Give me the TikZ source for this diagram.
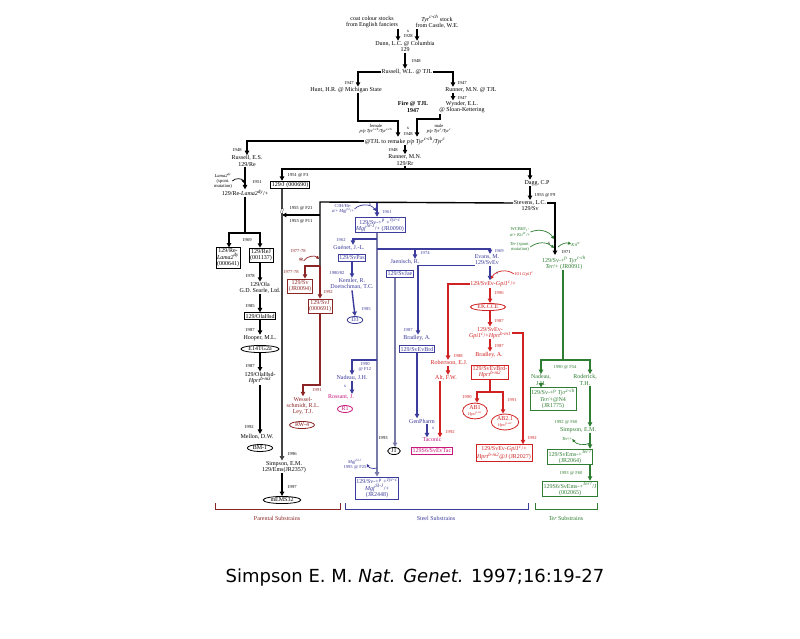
\documentclass[tikz,border=0pt]{standalone}
\usepackage{fontspec}
\setmainfont{Liberation Serif}
\newfontfamily\capfont{DejaVu Sans}
\usetikzlibrary{arrows.meta,shapes.geometric,calc}
\definecolor{mred}{HTML}{8B2525}
\definecolor{bl}{HTML}{3C3C9C}
\definecolor{bll}{HTML}{7A7AA8}
\definecolor{rd}{HTML}{D02222}
\definecolor{gr}{HTML}{2E7D32}
\definecolor{mg}{HTML}{C8187C}
\definecolor{pl}{HTML}{444444}
\newcommand{\gn}[1]{\textit{#1}}
\newcommand{\spx}[1]{\textsuperscript{#1}}
\begin{document}
\begin{tikzpicture}[x=1pt,y=-1pt,
 txt/.style={font=\fontsize{6}{6.4}\selectfont,align=center,inner sep=0.4pt},
 lab/.style={font=\fontsize{4.6}{5}\selectfont,align=center,inner sep=0.2pt},
 bx/.style={txt,draw,line width=0.8pt,inner sep=1.1pt},
 el/.style={txt,draw,ellipse,line width=0.8pt,inner xsep=1.8pt,inner ysep=0.5pt},
 ln/.style={line width=1.4pt},
 arr/.style={line width=1.4pt,-{Triangle[length=4.4pt,width=4.4pt]}},
 tarr/.style={line width=0.7pt,-{Triangle[length=3pt,width=3pt]}},
 brkt/.style={line width=1pt}]
\fill[white] (0,0) rectangle (800,639);
\path[use as bounding box] (0,0) rectangle (800,639);
% column coordinates
\coordinate (xa) at (398,0); \coordinate (xb) at (417,0); \coordinate (xh) at (358,0);
\coordinate (xr) at (453,0); \coordinate (xw) at (440,0); \coordinate (xp) at (282,0);
\coordinate (xd) at (530,0); \coordinate (xbl) at (377,0); \coordinate (xgu) at (353,0);
\coordinate (xev) at (490,0); \coordinate (xja) at (415,0); \coordinate (xj1) at (395,0);
\coordinate (xbr) at (418,0); \coordinate (xgp) at (427,0); \coordinate (xrb) at (448,0);
\coordinate (xal) at (440,0); \coordinate (xrr) at (523,0); \coordinate (xa1) at (477,0);
\coordinate (xa2) at (503,0); \coordinate (xg) at (555,0); \coordinate (xgl) at (563,0);
\coordinate (xro) at (590,0); \coordinate (xre) at (245,0); \coordinate (xl) at (260,0);
\coordinate (xlb) at (229,0); \coordinate (x305) at (305,0); \coordinate (x303) at (303,0);
\coordinate (xng) at (541,0); \coordinate (xs) at (320,0);
% junctions
\coordinate (hj) at (398,121); \coordinate (wc) at (440,119); \coordinate (hl) at (405,169);
\coordinate (sl) at (320,202); \coordinate (f11) at (320,215); \coordinate (sk) at (320,266);
\coordinate (wj) at (320,385); \coordinate (bg) at (377,239); \coordinate (be) at (377,249);
\coordinate (bn) at (377,360); \coordinate (rs) at (245,233); \coordinate (rj) at (490,392);
\coordinate (gj) at (563,360); \coordinate (lj) at (244,183); \coordinate (cj) at (376,211);
\coordinate (gpj) at (491,279); \coordinate (starj) at (319,259); \coordinate (wcbj) at (554,239);
\coordinate (terj) at (554,248); \coordinate (mgfj) at (377,468); \coordinate (terj2) at (590,443);
\coordinate (kj) at (558,247);

% ---------------- top (black)
\node[txt] (cfan) at (372,22) {coat colour stocks\\from English fanciers};
\node[txt] (ccas) at (437,22) {\gn{Tyr}\spx{\gn{c-ch}} stock\\from Castle, W.E.};
\node[txt] (dunn) at (405,44) {Dunn, L.C. @ Columbia};
\node[txt] (d129) at (405,50) {129};
\draw[arr] (cfan.south -| xa) -- (dunn.north -| xa);
\draw[arr] (ccas.south -| xb) -- (dunn.north -| xb);
\node[lab] (t1) at (408,31) {x};
\node[lab] (t2) at (408,36) {1928};
\node[txt] (rwl) at (407,72) {Russell, W.L. @ TJL};
\draw[arr] (d129.south) -- (d129.south |- rwl.north);
\node[lab] (t3) at (416,61) {1948};
\node[txt] (hunt) at (346,90) {Hunt, H.R. @ Michigan State};
\node[txt] (runtjl) at (471,90) {Runner, M.N. @ TJL};
\draw[arr] (rwl.west) -| (hunt.north -| xh);
\draw[arr] (rwl.east) -| (runtjl.north -| xr);
\node[lab] (t4) at (349,83) {1947};
\node[lab] (t5) at (462,83) {1947};
\node[txt] (wyn) at (462,107) {Wynder, E.L.\\@ Sloan-Kettering};
\draw[arr] (runtjl.south -| xr) -- (wyn.north -| xr);
\node[lab] (t6) at (462,98) {1947};
\node[txt,font=\fontsize{6}{6.4}\selectfont\bfseries] (fire) at (413,107) {Fire @ TJL\\1947};
\node[txt] (remake) at (405,141) {@TJL to remake \gn{p/p Tyr}\spx{\gn{c-ch}}\gn{/Tyr}\spx{\gn{c}}};
\node[lab] (fem) at (376,129) {female\\\gn{p/p Tyr}\spx{\gn{c-ch}}\gn{/Tyr}\spx{\gn{c-ch}}};
\node[lab] (mal) at (439,129) {male\\\gn{p/p Tyr}\spx{\gn{c}}\gn{/Tyr}\spx{\gn{c}}};
\draw[arr] (hunt.south -| xh) |- (hj) -- (remake.north -| xa);
\draw[arr] (wyn.south -| xw) -- (wc) -| (remake.north -| xb);
\node[lab] (t7) at (408,128) {x};
\node[lab] (t8) at (408,134) {1948};

\node[txt] (russes) at (247,161) {Russell, E.S.\\129/Re};
\draw[arr] (remake.west) -| (russes.north);
\node[lab] (t9) at (237,150) {1948};
\node[txt] (runmn) at (405,160) {Runner, M.N.\\129/Rr};
\draw[arr] (remake.south) -- (runmn.north);
\node[lab] (t10) at (393,150) {1948};
\draw[ln] (runmn.south) -- (hl);
\node[bx] (j690) at (290,185) {129/J (000690)};
\node[txt] (dagg) at (537,183) {Dagg, C.P};
\draw[arr] (hl) -| (j690.north -| xp);
\draw[arr] (hl) -| (dagg.north -| xd);
\node[lab] (t11) at (298,175) {1951 @ F3};
\node[txt] (stev) at (530,203) {Stevens, L.C.};
\node[txt] (sv129) at (530,209) {129/Sv};
\draw[arr] (dagg.south -| xd) -- (stev.north -| xd);
\node[lab] (t12) at (545,195) {1955 @ F9};
\draw[ln] (stev.west) -- (sl) -- (sk);
\draw[arr] (f11) -- (f11 -| xp);
\node[lab] (t13) at (301,208) {1955 @ F21};
\node[lab] (t14) at (301,221) {1955 @ F11};
\draw[arr] (stev.east) -| (555,255);

% ---------------- parental column
\node[lab,align=center] (lama) at (223,181) {\gn{Lama2}\spx{\gn{dy}}\\(spont.\\mutation)};
\draw[tarr] (lama.east) to[bend left=60] (lj);
\node[txt] (relama) at (245,193) {129/Re-\gn{Lama2}\spx{\gn{dy}}/+};
\draw[arr] (russes.south -| xre) -- (relama.north -| xre);
\node[lab] (t15) at (257,182) {1951};
\draw[ln] (relama.south) -- (rs);
\node[bx] (bL) at (228,258) {129/Re-\\\gn{Lama2}\spx{\gn{dy}}\\(000641)};
\node[bx] (bR) at (261,255) {129/ReJ\\(001137)};
\draw[arr] (rs) -| (bL.north -| xlb);
\draw[arr] (rs) -| (bR.north -| xl);
\node[lab] (t16) at (247,240) {1969};
\node[txt] (ola) at (260,288) {129/Ola\\G.D. Searle, Ltd.};
\draw[arr] (bR.south -| xl) -- (ola.north -| xl);
\node[lab] (t17) at (250,276) {1978};
\node[bx] (olahsd) at (260,316) {129/OlaHsd};
\draw[arr] (ola.south) -- (olahsd.north);
\node[lab] (t18) at (250,306) {1985};
\node[txt] (hooper) at (260,338) {Hooper, M.L.};
\draw[arr] (olahsd.south) -- (hooper.north);
\node[lab] (t19) at (250,330) {1987};
\node[el] (e14) at (260,349) {E14TG2a};
\node[txt] (olahprt) at (260,378) {129/OlaHsd-\\\gn{Hprt}\spx{\gn{b-m3}}};
\draw[arr] (e14.south) -- (olahprt.north);
\node[lab] (t20) at (250,366) {1987};
\node[txt] (mellon) at (257,437) {Mellon, D.W.};
\draw[arr] (olahprt.south -| xl) -- (mellon.north -| xl);
\node[lab] (t21) at (249,427) {1992};
\node[el] (bm1) at (260,448) {BM-1};

\node[txt] (sim) at (284,467) {Simpson, E.M.\\129/Ems(JR2357)};
\draw[arr,pl] (j690.south -| xp) -- (sim.north -| xp);
\node[fill=white,inner sep=0pt,font=\fontsize{7}{7}\selectfont] (brk) at (282,211) {//};
\node[lab] (t22) at (292,454) {1996};
\node[el] (mems) at (282,500) {mEMS32};
\draw[arr] (sim.south -| xp) -- (mems.north -| xp);
\node[lab] (t23) at (292,487) {1997};

% ---------------- maroon (129/Sv)
\node[lab,mred] (t24) at (298,251) {1977-78};
\node[mred,font=\fontsize{10}{10}\selectfont,inner sep=0pt] (star) at (301,261) {*};
\draw[tarr,mred] (star.east) to[bend left=50] (starj);
\node[bx,mred] (jr94) at (300,286) {129/Sv\\(JR0094)};
\draw[arr,mred] (sk) -| (jr94.north -| x305);
\node[lab,mred] (t25) at (291,272) {1977-78};
\node[bx,mred] (svj) at (320,306) {129/SvJ\\(000691)};
\draw[arr,mred] (sk) -- (svj.north -| xs);
\node[lab,mred] (t26) at (328,292) {1992};
\node[txt,mred] (wes) at (303,406) {Wessel-\\schmidt, R.L.\\Ley, T.J.};
\draw[arr,mred] (svj.south) -- (wj) -| (wes.north -| x303);
\node[lab,mred] (t27) at (317,390) {1991};
\node[el,mred] (rw4) at (302,425) {RW-4};

% ---------------- blue (Steel)
\node[lab,bl] (c3h) at (343,209) {C3H/He-\\\gn{a}/+ \gn{Mgf}\spx{\gn{Sl}}/+};
\draw[tarr,bl] (c3h.east) to[bend left=50] (cj);
\node[lab,bl] (t28) at (370,204) {x};
\node[bx,bl] (jr0090) at (380,225) {129/Sv-+\spx{p} +\spx{\gn{Tyr-c}}\\\gn{Mgf}\spx{\gn{Sl-J}}/+ (JR0090)};
\draw[arr,bl] (stev.west -| xbl) -- (jr0090.north -| xbl);
\node[lab,bl] (t29) at (387,212) {1961};
\node[bx,bl] (jr2448) at (377,488) {129/Sv-+\spx{p} +\spx{\gn{Tyr-c}}\\\gn{Mgf}\spx{\gn{Sl-J}}/+\\(JR2448)};
\draw[arr,bll] (jr0090.south -| xbl) -- (jr2448.north -| xbl);
\node[txt,bl] (guenet) at (349,248) {Guénet, J.-L.};
\draw[arr,bl] (bg) -| (guenet.north -| xgu);
\node[lab,bl] (t30) at (341,240) {1962};
\node[bx,bl] (pas) at (352,258) {129/SvPas};
\node[txt,bl] (kemler) at (352,284) {Kemler, R.\\Doetschman, T.C.};
\draw[arr,bl] (pas.south) -- (kemler.north);
\node[lab,bl] (t31) at (337,273) {1980/82};
\node[el,bl] (d3) at (355,320) {D3};
\draw[arr,bl] (kemler.south) -- (d3.north);
\node[lab,bl] (t32) at (366,309) {1985};
\node[txt,bl] (nadb) at (352,378) {Nadeau, J.H.};
\draw[arr,bl] (bn) -| (nadb.north);
\node[lab,bl] (t33) at (365,367) {1990\\@ F12};
\node[txt,mg] (ross) at (341,397) {Rossant, J.};
\draw[arr,bl] (nadb.south) -- (nadb.south |- ross.north);
\node[lab,bl] (t34) at (345,386) {x};
\node[el,mg] (r1) at (345,409) {R1};

\node[txt,bl] (jaen) at (405,262) {Jaenisch, R.};
\node[bx,bl] (jae) at (400,274) {129/SvJae};
\draw[arr,bl] (be) -| (jaen.north -| xja);
\node[lab,bl] (t35) at (425,253) {1974};
\node[txt,bl] (evans) at (487,257) {Evans, M.};
\node[txt,bl] (sv) at (487,263) {129/SvEv};
\draw[arr,bl] (be) -| (evans.north -| xev);
\node[lab,bl] (t36) at (499,251) {1969};
\node[el] (j1) at (394,451) {J1};
\draw[arr,bll] (jae.south -| xj1) -- (j1.north -| xj1);
\node[lab] (t37) at (383,438) {1993};
\node[txt,bl] (bradb) at (417,338) {Bradley, A.};
\draw[arr,bl] (sv.south west) -| (bradb.north -| xbr);
\node[lab,bl] (t38) at (408,330) {1987};
\node[bx,bl] (brd) at (417,349) {129/SvEvBrd};
\node[txt,bl] (gp) at (422,421) {GenPharm};
\draw[arr,bl] (brd.south) -- (brd.south |- gp.north);
\node[txt,mg] (tac) at (432,440) {Taconic};
\node[bx,mg] (tacb) at (432,451) {129S6/SvEvTac};
\draw[arr,bl] (gp.south -| xgp) -- (tac.north -| xgp);
\node[lab,bl] (t39) at (433,428) {x};
\node[lab,bl] (mgf) at (355,464) {\gn{Mgf}\spx{\gn{Sl-J}}\\1995 @ F25};
\draw[tarr,bl] (mgfj) to[bend left=40] (mgf.east);

% ---------------- red (Evans line)
\node[txt,rd] (gpi) at (493,284) {129/SvEv-\gn{Gpi1}\spx{\gn{c}}/+};
\draw[arr,bl] (sv.south -| xev) -- (gpi.north -| xev);
\node[lab,bl] (t40) at (497,273) {x};
\node[lab,rd] (g101) at (524,274) {101 \gn{Gpi1}\spx{\gn{c}}};
\draw[tarr,rd] (g101.west) to[bend right=50] (gpj);
\node[txt,rd] (rob) at (449,363) {Robertson, E.J.};
\draw[arr,rd] (gpi.west) -| (rob.north -| xrb);
\node[lab,rd] (t41) at (458,356) {1988};
\node[txt,rd] (alt) at (446,378) {Alt, F.W.};
\draw[arr,rd] (rob.south -| xrb) -- (alt.north -| xrb);
\draw[arr,rd] (alt.south -| xal) -- (tac.north -| xal);
\node[lab,rd] (t42) at (450,432) {1992};
\node[el,rd] (ek) at (488,307) {EK.CCE};
\draw[arr,rd] (gpi.south -| xev) -- (ek.north -| xev);
\node[lab,rd] (t43) at (499,293) {1996};
\node[txt,rd] (gh) at (490,333) {129/SvEv-\\\gn{Gpi1}\spx{\gn{c}}/+\gn{Hprt}\spx{\gn{b-m1}}};
\draw[arr,rd] (ek.south -| xev) -- (gh.north -| xev);
\node[lab,rd] (t44) at (499,321) {1987};
\node[txt,rd] (bradr) at (489,355) {Bradley, A.};
\draw[arr,rd] (gh.south -| xev) -- (bradr.north -| xev);
\node[lab,rd] (t45) at (499,346) {1987};
\node[bx,rd] (brdh) at (490,372) {129/SvEvBrd-\\\gn{Hprt}\spx{\gn{b-m2}}};
\node[el,rd] (ab1) at (475,411) {AB1\\[-1pt]{\fontsize{4}{4}\selectfont\gn{Hprt}\spx{\gn{b-m1}}}};
\node[el,rd] (ab2) at (505,422) {AB2.1\\[-1pt]{\fontsize{4}{4}\selectfont\gn{Hprt}\spx{\gn{b-m2}}}};
\draw[ln,rd] (brdh.south) -- (rj);
\draw[arr,rd] (rj) -| (ab1.north -| xa1);
\draw[arr,rd] (rj) -| (ab2.north -| xa2);
\node[lab,rd] (t46) at (467,397) {1990};
\node[lab,rd] (t47) at (512,400) {1991};
\node[bx,rd] (jr2027) at (504,453) {129/SvEv-\gn{Gpi1}\spx{\gn{c}}/+\\\gn{Hprt}\spx{\gn{b-m2}}@J (JR2027)};
\draw[arr,rd] (gh.east) -| (jr2027.north -| xrr);
\node[lab,rd] (t48) at (532,438) {1992};

% ---------------- green (Ter)
\node[lab,gr] (wcb) at (520,232) {WCB6F\textsubscript{1}-\\\gn{a}/+ \gn{Kit}\spx{\gn{W}}/+};
\node[lab,gr] (terl) at (520,247) {\gn{Ter} (spont.\\mutation)};
\draw[tarr,gr] (wcb.east) to[bend left=40] (wcbj);
\draw[tarr,gr] (terl.east) to[bend left=40] (terj);
\node[lab] (t49) at (549,243) {x};
\node[lab,gr] (kitw) at (576,244) {\gn{Kit}\spx{\gn{W}}};
\draw[tarr,gr] (kj) to[bend left=30] (kitw.west);
\node[lab] (t50) at (566,252) {1971};
\node[txt,gr] (g91) at (564,263) {129/Sv-+\spx{p} \gn{Tyr}\spx{\gn{c-ch}}\\\gn{Ter}/+ (JR0091)};
\draw[ln,gr] (g91.south -| xgl) -- (gj);
\node[txt,gr] (nadg) at (541,380) {Nadeau,\\J.H.};
\node[txt,gr] (rod) at (585,380) {Roderick,\\T.H.};
\draw[arr,gr] (gj) -| (nadg.north -| xng);
\draw[arr,gr] (gj) -| (rod.north -| xro);
\node[lab,gr] (t51) at (565,367) {1990 @ F54};
\node[bx,gr] (jr1775) at (553,399) {129/Sv-+\spx{p} \gn{Tyr}\spx{\gn{c-ch}}\\\gn{Ter}/+@N4\\(JR1775)};
\draw[arr,gr] (nadg.south) -- (nadg.south |- jr1775.north);
\node[txt,gr] (simg) at (578,430) {Simpson, E.M.};
\draw[arr,gr] (rod.south -| xro) -- (simg.north -| xro);
\node[lab,gr] (t52) at (566,422) {1992 @ F60};
\node[lab,gr] (terp) at (567,439) {\gn{Ter}/+};
\node[bx,gr] (jr2064) at (570,457) {129/SvEms-+\spx{\gn{Ter?}}\\(JR2064)};
\draw[arr,gr] (simg.south -| xro) -- (jr2064.north -| xro);
\draw[tarr,gr] (terj2) to[bend left=40] (terp.east);
\node[bx,gr] (b2065) at (570,489) {129S6/SvEms-+\spx{\gn{Ter?}}/J\\(002065)};
\draw[arr,gr] (jr2064.south -| xro) -- (b2065.north -| xro);
\node[lab,gr] (t53) at (571,473) {1993 @ F60};

% ---------------- brackets
\draw[brkt,mred] (215,503) -- (215,509) -- (340,509) -- (340,503);
\draw[brkt,bl] (345,503) -- (345,509) -- (528,509) -- (528,503);
\draw[brkt,gr] (535,503) -- (535,509) -- (597,509) -- (597,503);
\node[txt,mred] (bp) at (277,518) {Parental Substrains};
\node[txt,bl] (bs) at (436,518) {Steel Substrains};
\node[txt,gr] (bt) at (566,518) {\gn{Ter} Substrains};

% ---------------- caption
\node[font=\capfont\fontsize{18}{20}\selectfont,inner sep=0pt] (cap) at (415,578) {Simpson E. M. \textit{Nat. Genet.} 1997;16:19-27};
\end{tikzpicture}
\end{document}
